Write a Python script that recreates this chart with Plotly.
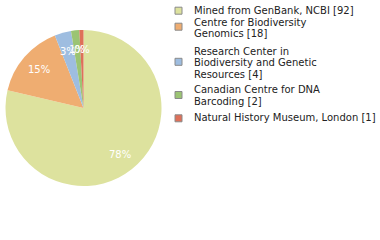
import math
import plotly.graph_objects as go

# Record counts per data source
sources = [
    ["Mined from GenBank, NCBI"],
    ["Centre for Biodiversity", "Genomics"],
    ["Research Center in", "Biodiversity and Genetic", "Resources"],
    ["Canadian Centre for DNA", "Barcoding"],
    ["Natural History Museum, London"],
]
counts = [92, 18, 4, 2, 1]
colors = ["#dde29e", "#efad71", "#9ebde0", "#9bc473", "#de7059"]

W, H = 380, 240
CX, CY, R = 83.5, 108, 78          # pie centre and radius in pixels
LABEL_R = 0.755 * R                # radius at which percentage labels sit

total = sum(counts)
pct_text = [f"{math.floor(c * 100 / total)}%" for c in counts]
names = [" ".join(s) for s in sources]


def px_x(x):
    return x / W


def px_y(y):
    return 1 - y / H


fig = go.Figure(
    go.Pie(
        labels=names,
        values=counts,
        textinfo="none",
        marker=dict(colors=colors, line=dict(width=0)),
        sort=False,
        direction="clockwise",
        rotation=0,
        domain=dict(x=[px_x(CX - R), px_x(CX + R)], y=[px_y(CY + R), px_y(CY - R)]),
        showlegend=False,
        hoverinfo="label+value+percent",
    )
)

annotations = []
shapes = []

# Percentage labels at the middle angle of each slice (clockwise from 12 o'clock)
cum = 0
for c, t in zip(counts, pct_text):
    mid = (cum + c / 2) / total * 2 * math.pi
    cum += c
    lx = CX + LABEL_R * math.sin(mid)
    ly = CY - LABEL_R * math.cos(mid)
    annotations.append(dict(
        x=px_x(lx), y=px_y(ly), xref="paper", yref="paper",
        text=t, showarrow=False, xanchor="center", yanchor="middle",
        font=dict(family="DejaVu Sans", size=10, color="white"),
    ))

# Legend drawn as swatches plus one text line per row
line_rows = [[10.5], [22.3, 33.5], [51.2, 62.6, 74], [89.9, 101.3], [117.3]]
swatch_rows = [10.7, 26.7, 61.8, 95, 118.3]
for src, n, col, rows, sy in zip(sources, counts, colors, line_rows, swatch_rows):
    lines = list(src)
    lines[-1] = f"{lines[-1]} [{n}]"
    for txt, yy in zip(lines, rows):
        annotations.append(dict(
            x=px_x(192), y=px_y(yy), xref="paper", yref="paper",
            text=txt, showarrow=False, xanchor="left", yanchor="middle",
            font=dict(family="DejaVu Sans", size=10, color="#222222"),
        ))
    shapes.append(dict(
        type="rect", xref="paper", yref="paper",
        x0=px_x(175), x1=px_x(182), y0=px_y(sy + 3.5), y1=px_y(sy - 3.5),
        fillcolor=col, line=dict(color="#8a8a8a", width=1),
    ))

fig.update_layout(
    width=W, height=H,
    margin=dict(l=0, r=0, t=0, b=0),
    paper_bgcolor="white", plot_bgcolor="white",
    annotations=annotations, shapes=shapes,
)

fig.write_html("out.html")
